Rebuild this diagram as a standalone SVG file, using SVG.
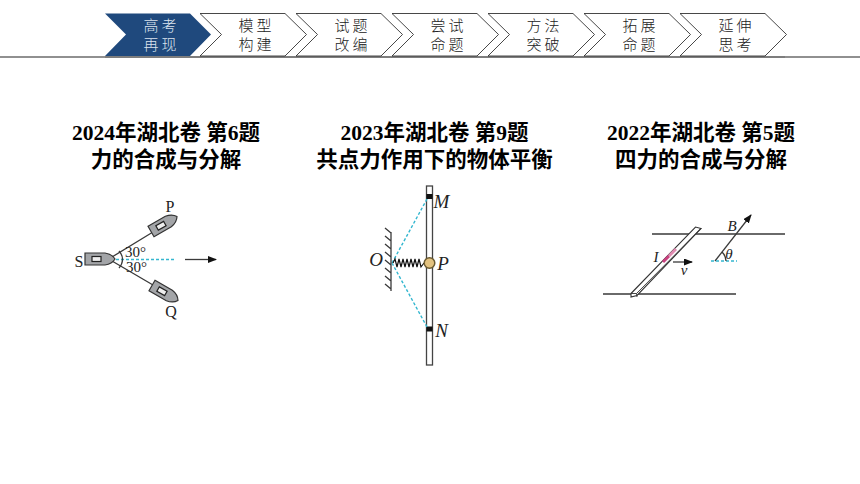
<svg xmlns="http://www.w3.org/2000/svg" width="860" height="484" viewBox="0 0 860 484">
<defs>
<marker id="ah" markerWidth="9" markerHeight="7" refX="8" refY="3.5" orient="auto" markerUnits="userSpaceOnUse"><path d="M0,0 L9,3.5 L0,7 Z" fill="#111"/></marker>
<path id="chev" d="M0,13.5 H85 L106.500,34.500 L85,56 H0 L21.500,34.500 Z" fill="#fff" stroke="#333" stroke-width="0.9"/>
<g id="boat"><path d="M-15,-6 H5 Q12,-5 15,0 Q12,5 5,6 H-15 Z" fill="#a3a5a8" stroke="#333" stroke-width="1.2"/><rect x="-8" y="-2.5" width="9" height="5" fill="#eee" stroke="#222" stroke-width="1.2"/></g>
</defs>
<style>
.nav{font-family:"Noto Sans CJK SC",sans-serif;font-size:15px;font-weight:300;fill:#222;text-anchor:middle;letter-spacing:3px}
.title{font-family:"Liberation Serif","Noto Sans CJK SC",serif;font-size:21.500px;font-weight:700;fill:#000;text-anchor:middle}
.lab{font-family:"Liberation Serif",serif;font-size:16px;fill:#222;text-anchor:middle}
.it{font-style:italic;font-size:19px}
.ln{fill:none;stroke:#3a3a3a;stroke-width:1.3}
.dash{fill:none;stroke:#35b7d0;stroke-width:1.4;stroke-dasharray:3 2}
</style>
<rect width="860" height="484" fill="#fff"/>
<g id="header-line"><path d="M0,57 H860" stroke="#222" stroke-width="1.2"/><path d="M105,57 H785" stroke="#777" stroke-width="1.6"/></g>
<g id="nav-1"><path d="M105,13.5 H190 L211,34.5 L190,56 H105 L126,34.5 Z" fill="#1f497d"/><text class="nav" x="161.500" y="31" style="fill:#dbe4ee">高考</text><text class="nav" x="161.500" y="49.500" style="fill:#dbe4ee">再现</text></g>
<g id="nav-2"><use href="#chev" x="200"/><text class="nav" x="256.500" y="31">模型</text><text class="nav" x="256.500" y="49.500">构建</text></g>
<g id="nav-3"><use href="#chev" x="296"/><text class="nav" x="352.500" y="31">试题</text><text class="nav" x="352.500" y="49.500">改编</text></g>
<g id="nav-4"><use href="#chev" x="392"/><text class="nav" x="448.500" y="31">尝试</text><text class="nav" x="448.500" y="49.500">命题</text></g>
<g id="nav-5"><use href="#chev" x="488"/><text class="nav" x="544.500" y="31">方法</text><text class="nav" x="544.500" y="49.500">突破</text></g>
<g id="nav-6"><use href="#chev" x="584"/><text class="nav" x="640.500" y="31">拓展</text><text class="nav" x="640.500" y="49.500">命题</text></g>
<g id="nav-7"><use href="#chev" x="680"/><text class="nav" x="736.500" y="31">延伸</text><text class="nav" x="736.500" y="49.500">思考</text></g>
<g id="title-1"><text class="title" x="166" y="140">2024年湖北卷 第6题</text><text class="title" x="166" y="166.500">力的合成与分解</text></g>
<g id="title-2"><text class="title" x="434.500" y="140">2023年湖北卷 第9题</text><text class="title" x="434.500" y="166.500">共点力作用下的物体平衡</text></g>
<g id="title-3"><text class="title" x="701" y="140">2022年湖北卷 第5题</text><text class="title" x="701" y="166.500">四力的合成与分解</text></g>
<g id="figure-1">
<path class="ln" d="M112,257 L153,232 M112,261 L153,285"/>
<use href="#boat" transform="translate(100,259)"/>
<use href="#boat" transform="translate(164,224) rotate(-30)"/>
<use href="#boat" transform="translate(165,293) rotate(30)"/>
<path class="dash" d="M116,259.5 H174"/>
<path class="ln" d="M185,259.5 H216" marker-end="url(#ah)"/>
<path class="ln" d="M119,251 Q122.500,255 122.500,259 Q122.500,264 119,268" stroke-width="0.8"/>
<text class="lab" x="170" y="212">P</text><text class="lab" x="171" y="317">Q</text><text class="lab" x="79" y="267">S</text>
<text class="lab" x="135.500" y="257" style="font-size:15px">30°</text><text class="lab" x="136.500" y="272" style="font-size:15px">30°</text>
</g>
<g id="figure-2">
<rect x="426.5" y="186" width="6" height="179" fill="#fff" stroke="#444" stroke-width="1.3"/>
<rect x="426.5" y="194" width="6" height="5" fill="#111"/><rect x="426.5" y="326.5" width="6" height="5" fill="#111"/>
<path class="dash" d="M392,263 L427,199 M392,263 L427,327"/>
<path class="ln" d="M391,232 V291 M391,233 L385,228 M391,241 L385,236 M391,249 L385,244 M391,257 L385,252 M391,265 L385,260 M391,273 L385,268 M391,281 L385,276 M391,289 L385,284"/>
<path fill="none" stroke="#111" stroke-width="1.2" d="M393,263 L395,259 L397,267 L399,259 L401,267 L403,259 L405,267 L407,259 L409,267 L411,259 L413,267 L415,259 L417,267 L419,259 L421,267 L424,263"/>
<circle cx="429.5" cy="263" r="5.3" fill="#e3c27f" stroke="#6b5a2f" stroke-width="1.5"/>
<text class="lab it" x="441.500" y="208">M</text><text class="lab it" x="443" y="270">P</text><text class="lab it" x="441.500" y="337">N</text><text class="lab it" x="376" y="266">O</text>
</g>
<g id="figure-3">
<path class="ln" d="M652,234 H785 M603,294 H736"/>
<path d="M631,293.5 L695.500,227 L701,228.500 L637,295.500 L631,297 Z" fill="#fff" stroke="#333" stroke-width="1.100"/>
<path d="M631,293.500 L636.500,293.500 L701,228.500 M636.500,293.500 L637,297" fill="none" stroke="#333" stroke-width="0.9"/>
<path d="M663,262 L669,256" stroke="#c9417f" stroke-width="3" fill="none"/><path d="M669,256 L676,249" stroke="#e08cb2" stroke-width="3" fill="none"/>
<path class="ln" d="M673,262 H692" marker-end="url(#ah)"/>
<path class="ln" d="M715,261 L751,215" marker-end="url(#ah)"/>
<path class="dash" d="M711,261 H737"/>
<path class="ln" d="M722,252 Q726,256 726,261" stroke-width="0.8"/>
<text class="lab it" x="656" y="262" style="font-size:15px">I</text><text class="lab it" x="684" y="275" style="font-size:15px">v</text><text class="lab it" x="732" y="231" style="font-size:15px">B</text><text class="lab it" x="729" y="259" style="font-size:15px">θ</text>
</g>
</svg>
